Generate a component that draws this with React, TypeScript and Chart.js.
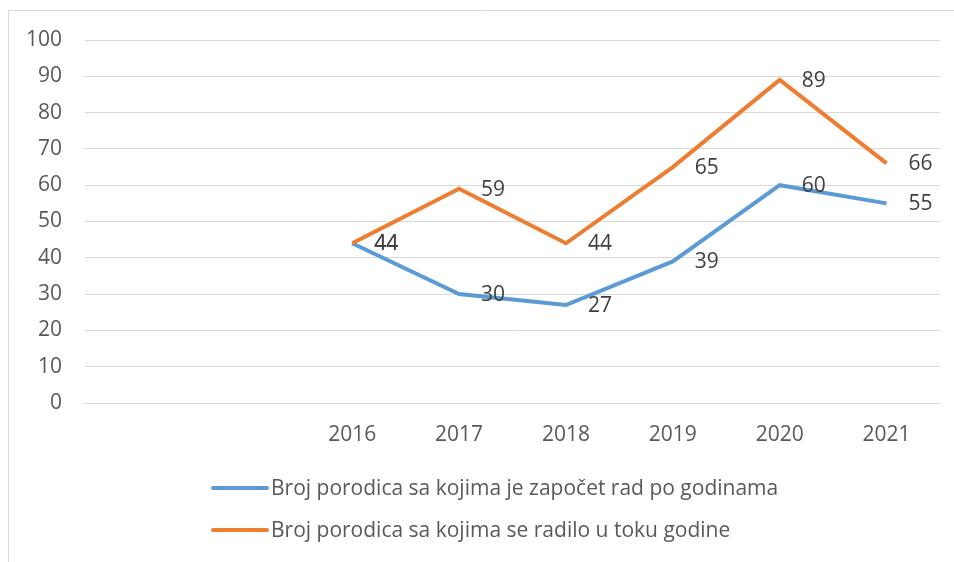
import React, { useEffect, useRef } from "react";
import { Chart, registerables } from "chart.js";

Chart.register(...registerables);

const categories = ["", "", "2016", "2017", "2018", "2019", "2020", "2021"];
const startedSeries = [null, null, 44, 30, 27, 39, 60, 55];
const workedSeries = [null, null, 44, 59, 44, 65, 89, 66];
const seriesNames = [
  "Broj porodica sa kojima je započet rad po godinama",
  "Broj porodica sa kojima se radilo u toku godine",
];
const seriesColors = ["#5B9BD5", "#ED7D31"];
const yTicks = { min: 0, max: 100, step: 10 };

const FONT = "'Open Sans', 'Noto Sans', sans-serif";
const FS = 21;

const framePlugin = {
  id: "frame",
  beforeDraw(chart: any) {
    const ctx = chart.ctx;
    ctx.save();
    ctx.fillStyle = "#ffffff";
    ctx.fillRect(0, 0, chart.width, chart.height);
    ctx.strokeStyle = "#d9d9d9";
    ctx.lineWidth = 1;
    ctx.beginPath();
    ctx.moveTo(8.5, chart.height + 5);
    ctx.lineTo(8.5, 10.5);
    ctx.lineTo(chart.width + 5, 10.5);
    ctx.stroke();
    ctx.restore();
  },
};

const labelPlugin = {
  id: "pointLabels",
  afterDatasetsDraw(chart: any) {
    const ctx = chart.ctx;
    ctx.save();
    ctx.font = `${FS}px ${FONT}`;
    ctx.fillStyle = "#404040";
    ctx.textAlign = "left";
    ctx.textBaseline = "middle";
    chart.data.datasets.forEach((ds: any, i: number) => {
      const meta = chart.getDatasetMeta(i);
      meta.data.forEach((pt: any, j: number) => {
        const v = ds.data[j];
        if (v === null || v === undefined) return;
        ctx.fillText(String(v), pt.x + 22, pt.y + 1);
      });
    });
    ctx.restore();
  },
};

const legendPlugin = {
  id: "customLegend",
  afterDraw(chart: any) {
    const ctx = chart.ctx;
    ctx.save();
    ctx.font = `${FS}px ${FONT}`;
    ctx.textBaseline = "middle";
    ctx.textAlign = "left";
    const rows = [488, 530];
    chart.data.datasets.forEach((ds: any, i: number) => {
      const y = rows[i];
      ctx.strokeStyle = ds.borderColor;
      ctx.lineWidth = 4;
      ctx.lineCap = "round";
      ctx.beginPath();
      ctx.moveTo(213, y);
      ctx.lineTo(267, y);
      ctx.stroke();
      ctx.fillStyle = "#595959";
      ctx.fillText(ds.label, 271, y + 1);
    });
    ctx.restore();
  },
};

export default function App() {
  const ref = useRef<HTMLCanvasElement>(null);
  useEffect(() => {
    if (!ref.current) return;
    const chart = new Chart(ref.current, {
      type: "line",
      data: {
        labels: categories,
        datasets: [
          {
            label: seriesNames[0],
            data: startedSeries,
            borderColor: seriesColors[0],
            backgroundColor: seriesColors[0],
            borderWidth: 4,
            pointRadius: 0,
            tension: 0,
            order: 1,
          },
          {
            label: seriesNames[1],
            data: workedSeries,
            borderColor: seriesColors[1],
            backgroundColor: seriesColors[1],
            borderWidth: 4,
            pointRadius: 0,
            tension: 0,
            order: 0,
          },
        ],
      },
      options: {
        responsive: false,
        animation: false,
        devicePixelRatio: 1,
        layout: { padding: { left: 0, right: 14, top: 40, bottom: 0 } },
        plugins: {
          legend: { display: false },
          tooltip: { enabled: false },
        },
        scales: {
          x: {
            offset: true,
            grid: { display: false },
            border: { display: false },
            ticks: {
              color: "#595959",
              font: { family: FONT, size: FS },
              padding: 11,
              maxRotation: 0,
              autoSkip: false,
            },
            afterFit: (s: any) => {
              s.height = 159;
            },
          },
          y: {
            min: yTicks.min,
            max: yTicks.max,
            grid: { color: "#d9d9d9", lineWidth: 1, drawTicks: false },
            border: { display: false },
            ticks: {
              stepSize: yTicks.step,
              color: "#595959",
              font: { family: FONT, size: FS },
              padding: 23,
            },
            afterFit: (s: any) => {
              s.width = 85;
            },
          },
        },
      },
      plugins: [framePlugin, labelPlugin, legendPlugin],
    });
    return () => chart.destroy();
  }, []);
  return (
    <canvas
      ref={ref}
      width={954}
      height={562}
      style={{ position: "fixed", left: 0, top: 0, width: 954, height: 562 }}
    />
  );
}
